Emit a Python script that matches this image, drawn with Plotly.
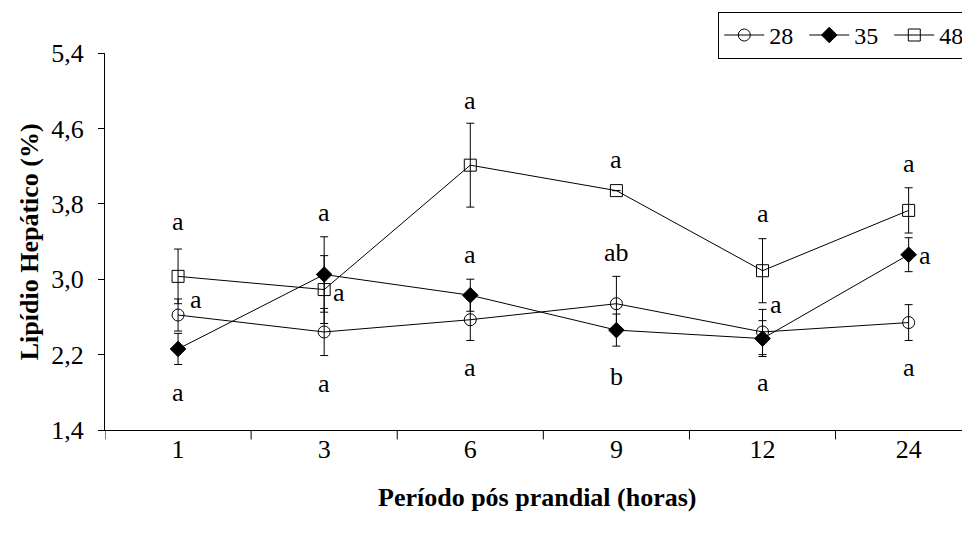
import plotly.graph_objects as go

# Período pós prandial (horas)
periods = ["1", "3", "6", "9", "12", "24"]

# Lipídio hepático (%) e erro padrão por grupo
lip_28 = [2.62, 2.44, 2.57, 2.74, 2.44, 2.54]
err_28 = [0.17, 0.25, 0.22, 0.29, 0.24, 0.19]
lip_35 = [2.26, 3.05, 2.83, 2.46, 2.37, 3.26]
err_35 = [0.165, 0.40, 0.17, 0.17, 0.19, 0.18]
lip_48 = [3.03, 2.89, 4.21, 3.94, 3.09, 3.73]
err_48 = [0.29, 0.36, 0.445, 0.0, 0.34, 0.24]

# letras de significância (acima, ao lado, abaixo)
letters_top = ["a", "a", "a", "a", "a", "a"]
letters_mid = ["a", "a", "a", "ab", "a", "a"]
letters_low = ["a", "a", "a", "b", "a", "a"]
y_top = [3.61, 3.71, 4.90, 4.27, 3.70, 4.23]
y_mid = [2.78, 2.86, 3.26, 3.28, 2.73, 3.25]
y_low = [1.80, 1.89, 2.06, 1.97, 1.90, 2.06]
mid_dx = [0.12, 0.10, 0.0, 0.0, 0.09, 0.11]

FONT = "Liberation Serif, Times New Roman, serif"
FS = 26

fig = go.Figure()

series = [
    ("28", lip_28, err_28, "circle-open"),
    ("35", lip_35, err_35, "diamond"),
    ("48", lip_48, err_48, "square-open"),
]
for name, vals, errs, sym in series:
    fig.add_trace(
        go.Scatter(
            x=list(range(len(periods))),
            y=vals,
            name=name,
            mode="lines+markers",
            line=dict(color="black", width=1),
            marker=dict(symbol=sym, size=12, color="black", line=dict(color="black", width=1)),
            error_y=dict(type="data", array=errs, visible=True, color="black", thickness=1, width=4),
        )
    )

for i in range(len(periods)):
    fig.add_annotation(x=i, y=y_top[i], text=letters_top[i], showarrow=False)
    fig.add_annotation(x=i + mid_dx[i], y=y_mid[i], text=letters_mid[i], showarrow=False)
    fig.add_annotation(x=i, y=y_low[i], text=letters_low[i], showarrow=False)

fig.update_annotations(font=dict(family=FONT, size=FS, color="black"))

# títulos dos eixos
fig.add_annotation(xref="paper", yref="paper", x=0.5, y=-0.178, xanchor="center", yanchor="middle",
                   text="<b>Período pós prandial (horas)</b>", showarrow=False,
                   font=dict(family=FONT, size=FS, color="black"))
fig.add_annotation(xref="paper", yref="paper", x=-0.087, y=0.5, xanchor="center", yanchor="middle",
                   textangle=-90, text="<b>Lipídio Hepático (%)</b>", showarrow=False,
                   font=dict(family=FONT, size=FS, color="black"))

# a página tem margem de 8 px, por isso a figura é 8 px menor
fig.update_layout(
    width=962,
    height=525,
    margin=dict(l=97, r=0, t=45, b=103, autoexpand=False),
    paper_bgcolor="white",
    plot_bgcolor="white",
    separators=",.",
    font=dict(family=FONT, size=FS, color="black"),
    showlegend=True,
    legend=dict(
        orientation="h",
        x=0.709,
        xanchor="left",
        y=1.109,
        yanchor="top",
        bordercolor="black",
        borderwidth=1,
        font=dict(family=FONT, size=24, color="black"),
        itemwidth=40,
        entrywidth=30,
    ),
    xaxis=dict(
        tickmode="array",
        tickvals=list(range(len(periods))),
        ticktext=periods,
        range=[-0.5, 5.42],
        showline=True,
        linecolor="black",
        linewidth=1,
        showgrid=False,
        zeroline=False,
        ticks="",
        ticklabelstandoff=-4,
        automargin=False,
    ),
    yaxis=dict(
        range=[1.4, 5.4],
        tickvals=[1.4, 2.2, 3.0, 3.8, 4.6, 5.4],
        tickformat=".1f",
        showline=True,
        linecolor="black",
        linewidth=1,
        showgrid=False,
        zeroline=False,
        ticks="outside",
        ticklen=6,
        tickcolor="black",
        ticklabelstandoff=9,
        automargin=False,
    ),
)

# marcas de divisão entre categorias no eixo x
for b in [-0.5, 0.5, 1.5, 2.5, 3.5, 4.5]:
    fig.add_shape(type="line", xref="x", yref="paper", x0=b, x1=b, y0=0, y1=-0.025,
                  line=dict(color="black", width=1))

fig.write_html("out.html")
